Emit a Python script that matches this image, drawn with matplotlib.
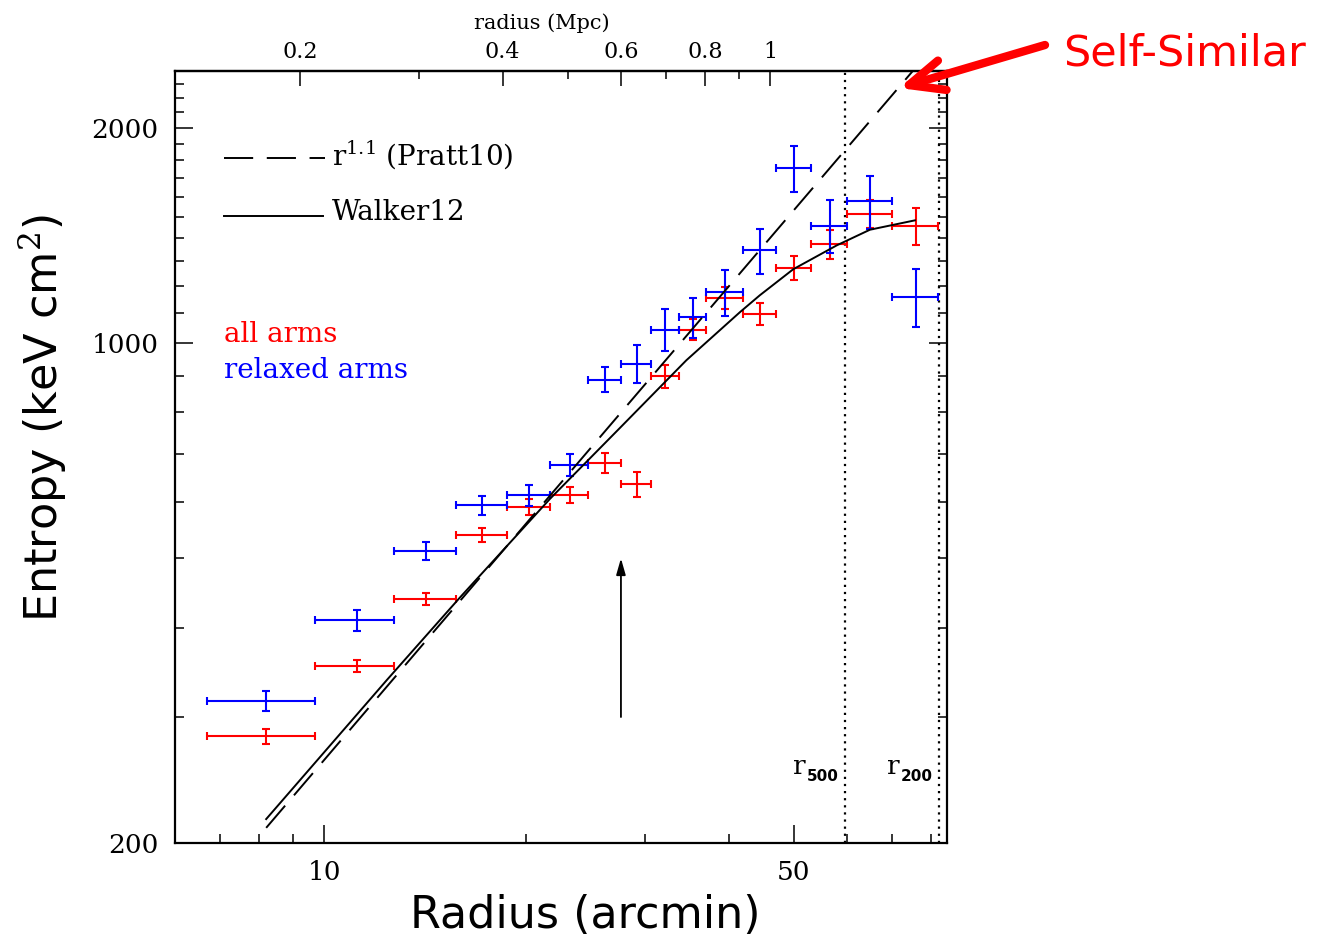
import matplotlib
matplotlib.use('Agg')
import matplotlib.pyplot as plt
from matplotlib.ticker import FixedLocator, FixedFormatter, NullFormatter
from matplotlib.patches import FancyArrowPatch

# ---------------- data ----------------
radius_arcmin = [8.2, 11.2, 14.2, 17.2, 20.2, 23.2, 26.2, 29.2, 32.2,
                 35.35, 39.5, 44.5, 50.0, 56.5, 65.0, 76.0]
radius_halfwidth = [1.5, 1.5, 1.5, 1.5, 1.5, 1.5, 1.5, 1.5, 1.5,
                    1.65, 2.5, 2.5, 3.0, 3.5, 5.0, 6.0]

entropy_all = [282, 354, 439, 539, 590, 614, 680, 635, 898,
               1044, 1157, 1099, 1273, 1374, 1516, 1457]
entropy_all_err = [7, 7, 8.5, 12.5, 15, 16, 22, 25, 33,
                   35, 40, 40, 50, 64, 70, 86]

entropy_relaxed = [316, 410, 512, 593, 613, 676, 889, 936, 1044,
                   1087, 1178, 1347, 1756, 1459, 1578, 1160]
entropy_relaxed_err = [10.5, 14, 15, 19, 21, 24, 36, 57, 70,
                       70, 87, 97, 128, 124, 136, 108]

walker_r = [8.2, 12.4, 15.9, 21.7, 27.6, 34.6, 41.6, 44.5, 49.9, 57.9, 64.9, 75.7]
walker_K = [216, 338, 440, 606, 762, 946, 1105, 1166, 1268, 1369, 1440, 1484]

pratt_r = [8.2, 76.0]
pratt_K = [210, 2430]

r500_arcmin = 59.5
r200_arcmin = 82.2
MPC_PER_ARCMIN = 0.0217

x_major = [10, 50]
x_major_labels = ['10', '50']
x_minor = [7, 8, 9, 20, 30, 40, 60, 70, 80]
y_major = [200, 1000, 2000]
y_major_labels = ['200', '1000', '2000']
y_minor = [300, 400, 500, 600, 700, 800, 900, 1100, 1200, 1300, 1400,
           1500, 1600, 1700, 1800, 1900, 2100, 2200, 2300]
mpc_major = [0.2, 0.4, 0.6, 0.8, 1.0]
mpc_major_labels = ['0.2', '0.4', '0.6', '0.8', '1']
mpc_minor = [0.3, 0.5, 0.7, 0.9]

# ---------------- figure ----------------
plt.rcParams['font.family'] = ['DejaVu Serif']
plt.rcParams['mathtext.fontset'] = 'dejavuserif'

W, H = 1317, 946
fig = plt.figure(figsize=(W / 100, H / 100), dpi=100)
L, R, T, B = 175, 947, 71, 843
ax = fig.add_axes([L / W, 1 - B / H, (R - L) / W, (B - T) / H])
ax.set_xscale('log')
ax.set_yscale('log')
ax.set_xlim(6.0, 84.5)
ax.set_ylim(200, 2400)

RED = '#ff0000'
BLUE = '#0000ff'

ax.errorbar(radius_arcmin, entropy_all, xerr=radius_halfwidth, yerr=entropy_all_err,
            fmt='none', ecolor=RED, elinewidth=1.5, capsize=2.6, capthick=1.5, zorder=3)
ax.errorbar(radius_arcmin, entropy_relaxed, xerr=radius_halfwidth, yerr=entropy_relaxed_err,
            fmt='none', ecolor=BLUE, elinewidth=1.5, capsize=2.6, capthick=1.5, zorder=3)

ax.plot(pratt_r, pratt_K, color='black', lw=1.4, dashes=(15, 7), zorder=4)
ax.plot(walker_r, walker_K, color='black', lw=1.4, zorder=4)

for xv in (r500_arcmin, r200_arcmin):
    ax.axvline(xv, color='black', lw=1.6, linestyle=(0, (1, 2.2)), zorder=2)

# arrow in the middle
ax.annotate('', xy=(27.65, 500), xytext=(27.65, 300),
            arrowprops=dict(arrowstyle='-|>,head_length=0.7,head_width=0.2',
                            color='black', lw=1.3, mutation_scale=14,
                            shrinkA=0, shrinkB=0))

# ticks
ax.xaxis.set_major_locator(FixedLocator(x_major))
ax.xaxis.set_major_formatter(FixedFormatter(x_major_labels))
ax.xaxis.set_minor_locator(FixedLocator(x_minor))
ax.xaxis.set_minor_formatter(NullFormatter())
ax.yaxis.set_major_locator(FixedLocator(y_major))
ax.yaxis.set_major_formatter(FixedFormatter(y_major_labels))
ax.yaxis.set_minor_locator(FixedLocator(y_minor))
ax.yaxis.set_minor_formatter(NullFormatter())
ax.tick_params(which='both', direction='in', top=False, right=True, width=1.1)
ax.tick_params(which='major', length=13, labelsize=19, pad=12)
ax.tick_params(which='minor', length=6.5)
for s in ax.spines.values():
    s.set_linewidth(1.6)

secax = ax.secondary_xaxis('top', functions=(lambda r: r * MPC_PER_ARCMIN,
                                               lambda m: m / MPC_PER_ARCMIN))
secax.xaxis.set_major_locator(FixedLocator(mpc_major))
secax.xaxis.set_major_formatter(FixedFormatter(mpc_major_labels))
secax.xaxis.set_minor_locator(FixedLocator(mpc_minor))
secax.xaxis.set_minor_formatter(NullFormatter())
secax.tick_params(which='both', direction='in', width=1.1)
secax.tick_params(which='major', length=11, labelsize=16, pad=6)
secax.tick_params(which='minor', length=6)
secax.spines['top'].set_linewidth(1.6)
fig.text(542 / W, 1 - 23 / H, 'radius (Mpc)', fontsize=15, ha='center', va='center')

# axis labels
ax.set_xlabel('Radius (arcmin)', fontsize=32, family='DejaVu Sans', va='center')
ax.xaxis.set_label_coords((585 - L) / (R - L), (B - 915) / (B - T))
ax.set_ylabel('Entropy (keV cm$^2$)', fontsize=32, family='DejaVu Sans', va='center')
ax.yaxis.set_label_coords((43 - L) / (R - L), (B - 418) / (B - T))

# legend-like annotations
def fx(px):
    return (px - L) / (R - L)

def fy(py):
    return (B - py) / (B - T)

ax.plot([fx(224), fx(325)], [fy(158), fy(158)], transform=ax.transAxes,
        color='black', lw=1.4, dashes=(15, 7))
ax.text(fx(332), fy(155), r'r$^{1.1}$ (Pratt10)', transform=ax.transAxes,
        fontsize=20, va='center', ha='left')
ax.plot([fx(224), fx(323)], [fy(216), fy(216)], transform=ax.transAxes,
        color='black', lw=1.4)
ax.text(fx(332), fy(213), 'Walker12', transform=ax.transAxes,
        fontsize=20, va='center', ha='left')
ax.text(fx(224), fy(335), 'all arms', transform=ax.transAxes,
        fontsize=20, va='center', ha='left', color=RED)
ax.text(fx(224), fy(371), 'relaxed arms', transform=ax.transAxes,
        fontsize=20, va='center', ha='left', color=BLUE)

# r500 / r200 labels
for rx, sub in ((793, '500'), (887, '200')):
    ax.text(fx(rx), fy(774), 'r', transform=ax.transAxes, fontsize=19,
            va='baseline', ha='left')
    ax.text(fx(rx + 14), fy(781), sub, transform=ax.transAxes, fontsize=11,
            va='baseline', ha='left', family='DejaVu Sans', weight='bold')

# Self-Similar annotation
fig.text(1063 / W, 1 - 66 / H, 'Self-Similar', color=RED, fontsize=31,
         family='DejaVu Sans', ha='left', va='baseline')
arrow = FancyArrowPatch((1045, H - 45), (899, H - 88), transform=None,
                        arrowstyle='->,head_length=1.25,head_width=0.55',
                        mutation_scale=20, color=RED, lw=6,
                        shrinkA=0, shrinkB=0, capstyle='round', joinstyle='round')
fig.add_artist(arrow)

fig.savefig('out.png', dpi=100)
